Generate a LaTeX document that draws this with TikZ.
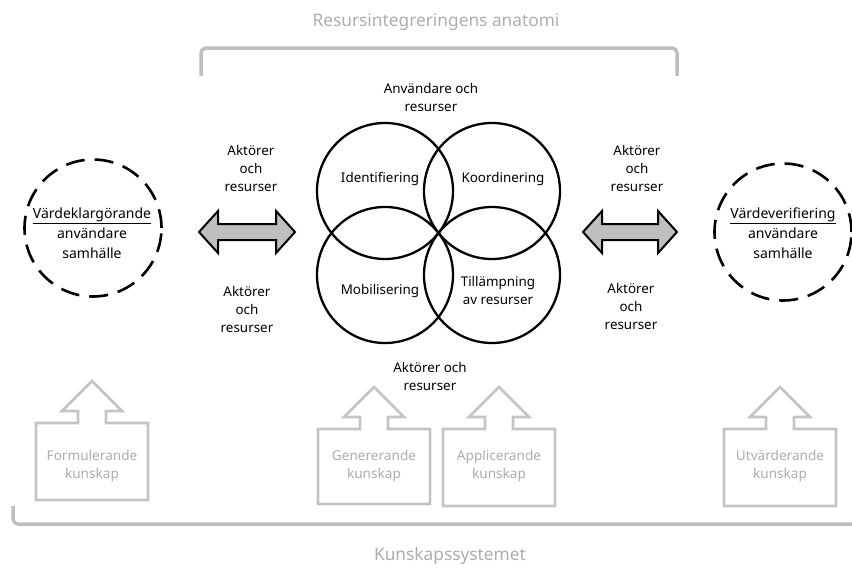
\documentclass[tikz,border=0pt]{standalone}
\usepackage{fontspec}
\setmainfont{Noto Sans}
\begin{document}
\begin{tikzpicture}[x=1pt,y=-1pt,
  ring/.style={circle,draw=black,line width=2.3pt,minimum size=136pt,inner sep=0pt},
  dring/.style={circle,draw=black,line width=2.6pt,minimum size=137pt,inner sep=0pt,dash pattern=on 19pt off 10pt},
  lbl/.style={align=center,inner sep=0pt,font=\fontsize{13.4}{18}\selectfont},
  blbl/.style={align=center,inner sep=0pt,font=\fontsize{14}{20}\selectfont},
  glbl/.style={align=center,inner sep=0pt,text=gtext,font=\fontsize{13.6}{18}\selectfont},
  title/.style={inner sep=0pt,text=gtext,font=\fontsize{17.3}{20}\selectfont},
  bracket/.style={draw=gline,line width=3.5pt,rounded corners=5pt},
  gbox/.style={draw=gbord,line width=2.6pt,fill=white},
  barrow/.style={draw=black,line width=2pt,fill=afill,line join=miter}]
\definecolor{gtext}{HTML}{ADADAD}
\definecolor{gline}{HTML}{BFBFBF}
\definecolor{gbord}{HTML}{C4C4C4}
\definecolor{afill}{HTML}{BFBFBF}
\useasboundingbox (0,0) rectangle (852,568);
% titles and brackets
\node[title] (t1) at (436,22) {Resursintegreringens anatomi};
\draw[bracket] (201,76) -- (201,48) -- (677,48) -- (677,76);
\node[title] (t2) at (450,556) {Kunskapssystemet};
\draw[bracket] (13,506) -- (13,524) -- (852,524);
% venn circles
\node[ring] (c1) at (385,191) {};
\node[ring] (c2) at (492,191) {};
\node[ring] (c3) at (385,275) {};
\node[ring] (c4) at (492,275) {};
\node[lbl] (l1) at (380,179) {Identifiering};
\node[lbl] (l2) at (503,179) {Koordinering};
\node[lbl] (l3) at (380,291) {Mobilisering};
\node[lbl] (l4) at (498,290) {Tillämpning\\av resurser};
\node[lbl] (top) at (431,97) {Användare och\\resurser};
\node[lbl] (bot) at (430,376) {Aktörer och\\resurser};
% dashed circles
\node[dring] (dl) at (93,228) {};
\node[blbl] (dlt) at (92,233) {\underline{Värdeklargörande}\\användare\\samhälle};
\node[dring] (dr) at (783,232) {};
\node[blbl] (drt) at (783,233) {\underline{Värdeverifiering}\\användare\\samhälle};
% labels
\node[lbl] (a1) at (251,168) {Aktörer\\och\\resurser};
\node[lbl] (a2) at (247,309) {Aktörer\\och\\resurser};
\node[lbl] (a3) at (637,168) {Aktörer\\och\\resurser};
\node[lbl] (a4) at (631,306) {Aktörer\\och\\resurser};
% double block arrows
\draw[barrow] (199,232) -- (218,211) -- (218,224) -- (276,224) -- (276,211) -- (295,232)
  -- (276,253) -- (276,240) -- (218,240) -- (218,253) -- cycle;
\draw[barrow] (583,232) -- (602,211) -- (602,224) -- (658,224) -- (658,211) -- (677,232)
  -- (658,253) -- (658,240) -- (602,240) -- (602,253) -- cycle;
% knowledge boxes
\newcommand{\kbox}[4]{%
  \draw[gbox] (#1-56,#3) -- (#1-56,#2) -- (#1-14,#2) -- (#1-14,#2-12) -- (#1-30,#2-12)
    -- (#1,#2-42) -- (#1+30,#2-12) -- (#1+14,#2-12) -- (#1+14,#2) -- (#1+56,#2)
    -- (#1+56,#3) -- cycle;
  \node[glbl] at (#1,466) {#4};}
\kbox{92}{423}{500}{Formulerande\\kunskap}
\kbox{374}{429}{504}{Genererande\\kunskap}
\kbox{499}{429}{506}{Applicerande\\kunskap}
\kbox{780}{429}{506}{Utvärderande\\kunskap}
\end{tikzpicture}
\end{document}
